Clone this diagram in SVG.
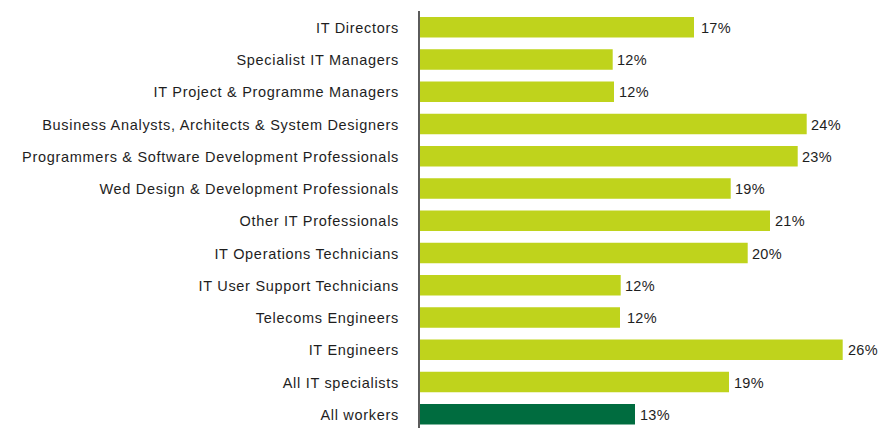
<svg xmlns="http://www.w3.org/2000/svg" width="880" height="428" viewBox="0 0 880 428">
<style>
.bar{fill:#BFD31C}
.bar2{fill:#006C3F}
.lbl{font-family:"Liberation Sans",Arial,sans-serif;font-size:14.5px;letter-spacing:0.7px;fill:#1e1e1e;text-anchor:end}
.val{font-family:"Liberation Sans",Arial,sans-serif;font-size:14.5px;letter-spacing:0.3px;fill:#1e1e1e}
</style>
<rect width="880" height="428" fill="#fff"/>
<g id="r1"><rect class="bar" x="420" y="17" width="274" height="20.5"/><text class="lbl" x="399" y="32.8">IT Directors</text><text class="val" x="701" y="32.8">17%</text></g>
<g id="r2"><rect class="bar" x="420" y="49.25" width="192.7" height="20.5"/><text class="lbl" x="399" y="65">Specialist IT Managers</text><text class="val" x="617" y="65">12%</text></g>
<g id="r3"><rect class="bar" x="420" y="81.5" width="194" height="20.5"/><text class="lbl" x="399" y="97.3">IT Project &amp; Programme Managers</text><text class="val" x="619" y="97.3">12%</text></g>
<g id="r4"><rect class="bar" x="420" y="113.75" width="386.7" height="20.5"/><text class="lbl" x="399" y="129.5">Business Analysts, Architects &amp; System Designers</text><text class="val" x="811" y="129.5">24%</text></g>
<g id="r5"><rect class="bar" x="420" y="146" width="377.7" height="20.5"/><text class="lbl" x="399" y="161.8">Programmers &amp; Software Development Professionals</text><text class="val" x="802" y="161.8">23%</text></g>
<g id="r6"><rect class="bar" x="420" y="178.25" width="310.7" height="20.5"/><text class="lbl" x="399" y="194">Wed Design &amp; Development Professionals</text><text class="val" x="735" y="194">19%</text></g>
<g id="r7"><rect class="bar" x="420" y="210.5" width="350" height="20.5"/><text class="lbl" x="399" y="226.3">Other IT Professionals</text><text class="val" x="775" y="226.3">21%</text></g>
<g id="r8"><rect class="bar" x="420" y="242.75" width="327.7" height="20.5"/><text class="lbl" x="399" y="258.5">IT Operations Technicians</text><text class="val" x="752" y="258.5">20%</text></g>
<g id="r9"><rect class="bar" x="420" y="275" width="200.7" height="20.5"/><text class="lbl" x="399" y="290.8">IT User Support Technicians</text><text class="val" x="625" y="290.8">12%</text></g>
<g id="r10"><rect class="bar" x="420" y="307.25" width="200" height="20.5"/><text class="lbl" x="399" y="323">Telecoms Engineers</text><text class="val" x="627" y="323">12%</text></g>
<g id="r11"><rect class="bar" x="420" y="339.5" width="422.7" height="20.5"/><text class="lbl" x="399" y="355.3">IT Engineers</text><text class="val" x="848" y="355.3">26%</text></g>
<g id="r12"><rect class="bar" x="420" y="371.75" width="309" height="20.5"/><text class="lbl" x="399" y="387.5">All IT specialists</text><text class="val" x="734" y="387.5">19%</text></g>
<g id="r13"><rect class="bar2" x="420" y="404" width="215" height="20.5"/><text class="lbl" x="399" y="419.8">All workers</text><text class="val" x="640" y="419.8">13%</text></g>
<g id="axis"><line x1="419" y1="11" x2="419" y2="428" stroke="#333" stroke-width="1.6"/></g>
</svg>
